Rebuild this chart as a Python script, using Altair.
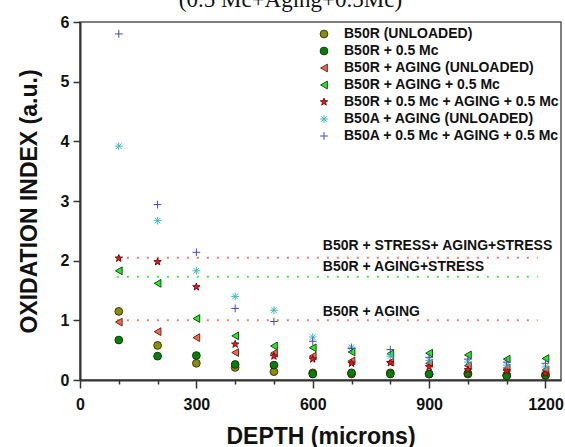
import altair as alt
import pandas as pd

# ---------------- data ----------------
depth = [100, 200, 300, 400, 500, 600, 700, 800, 900, 1000, 1100, 1200]

series_names = [
    "B50R (UNLOADED)",
    "B50R + 0.5 Mc",
    "B50R + AGING (UNLOADED)",
    "B50R + AGING + 0.5 Mc",
    "B50R + 0.5 Mc + AGING + 0.5 Mc",
    "B50A + AGING (UNLOADED)",
    "B50A + 0.5 Mc + AGING + 0.5 Mc",
]

b50r_unloaded = [1.15, 0.58, 0.28, 0.21, 0.14, 0.12, 0.10, 0.12, 0.10, 0.10, 0.08, 0.08]
b50r_05mc = [0.67, 0.40, 0.41, 0.26, 0.25, 0.10, 0.12, 0.10, 0.10, 0.11, 0.07, 0.08]
b50r_aging = [0.97, 0.81, 0.71, 0.46, 0.45, 0.40, 0.32, 0.30, 0.28, 0.24, 0.20, 0.17]
b50r_aging_05mc = [1.83, 1.62, 1.03, 0.74, 0.57, 0.54, 0.47, 0.44, 0.45, 0.42, 0.35, 0.36]
b50r_05mc_aging_05mc = [2.04, 1.98, 1.56, 0.60, 0.40, 0.35, 0.28, 0.29, 0.22, 0.17, 0.15, 0.11]
b50a_aging = [3.92, 2.67, 1.83, 1.40, 1.17, 0.72, 0.55, 0.40, 0.33, 0.30, 0.25, 0.22]
b50a_05mc_aging_05mc = [5.80, 2.94, 2.14, 1.20, 0.98, 0.65, 0.53, 0.51, 0.38, 0.35, 0.30, 0.28]

all_values = [b50r_unloaded, b50r_05mc, b50r_aging, b50r_aging_05mc,
              b50r_05mc_aging_05mc, b50a_aging, b50a_05mc_aging_05mc]

# reference (dotted) levels
ref_labels = ["B50R + STRESS+ AGING+STRESS", "B50R + AGING+STRESS", "B50R + AGING"]
ref_levels = [2.05, 1.73, 1.0]
ref_colors = ["#ff7070", "#44ee44", "#ff7a6a"]
ref_start = [95, 95, 95]
ref_end = [1180, 1180, 1180]
label_x = [626, 626, 626]
label_y = [2.25, 1.90, 1.145]

# styles
fill_colors = ["#8c8c0a", "#0a7d0a", "#ee6a4c", "#22ee22", "#ee1515", "#ffffff00", "#ffffff00"]
stroke_colors = ["#3a3a10", "#0c3c0c", "#6a2a20", "#1a4a1a", "#701010", "#3cbcbc", "#4848bb"]
star = ("M0,-1L0.235,-0.324L0.951,-0.309L0.38,0.124L0.588,0.809L0,0.4L-0.588,0.809"
        "L-0.38,0.124L-0.951,-0.309L-0.235,-0.324Z")
asterisk = "M-1,0L1,0M0,-1L0,1M-0.72,-0.72L0.72,0.72M-0.72,0.72L0.72,-0.72"
plus = "M-1,0L1,0M0,-1L0,1"
shapes = ["circle", "circle", "triangle-left", "triangle-left", star, asterisk, plus]
sizes = [60, 60, 90, 90, 110, 100, 100]

rows = []
for name, vals in zip(series_names, all_values):
    for d, v in zip(depth, vals):
        rows.append({"series": name, "depth": d, "value": v})
df = pd.DataFrame(rows)

ref_df = pd.DataFrame({
    "label": ref_labels, "level": ref_levels, "color": ref_colors,
    "x0": ref_start, "x1": ref_end, "lx": label_x, "ly": label_y,
})

FONT = "Liberation Sans"

xscale = alt.Scale(domain=[0, 1240], nice=False, zero=False)
yscale = alt.Scale(domain=[0, 6], nice=False)

x_axis = alt.Axis(
    values=list(range(0, 1201, 100)),
    labelExpr="datum.value % 300 === 0 ? datum.label : ''",
    format="d",
    tickSize={"condition": {"test": "datum.value % 300 === 0", "value": 8}, "value": 4},
    labelFlush=False, labelOverlap=False, grid=False,
    title="DEPTH (microns)", titlePadding=13,
    labelPadding=8,
)
y_axis = alt.Axis(
    values=[i * 0.5 for i in range(13)],
    labelExpr="datum.value % 1 === 0 ? datum.label : ''",
    format="d",
    tickSize={"condition": {"test": "datum.value % 1 === 0", "value": 7}, "value": 4},
    labelOverlap=False, grid=False,
    title="OXIDATION INDEX (a.u.)", titlePadding=19,
    labelPadding=4,
)

rules = alt.Chart(ref_df).mark_rule(strokeDash=[2, 8], strokeWidth=2).encode(
    x=alt.X("x0:Q", scale=xscale, axis=x_axis),
    x2="x1:Q",
    y=alt.Y("level:Q", scale=yscale, axis=y_axis),
    color=alt.Color("color:N", scale=None),
)

ann = alt.Chart(ref_df).mark_text(
    align="left", baseline="middle", font=FONT, fontWeight="bold", fontSize=14, color="#111"
).encode(
    x=alt.X("lx:Q", scale=xscale),
    y=alt.Y("ly:Q", scale=yscale),
    text="label:N",
)

legend = alt.Legend(
    title=None, orient="none", legendX=237, legendY=5,
    labelFont=FONT, labelFontWeight="bold", labelFontSize=14, labelColor="#111",
    labelOffset=13, labelLimit=400, rowPadding=3, padding=0,
    symbolStrokeWidth=1,
)

points = alt.Chart(df).mark_point(filled=True, opacity=1, strokeWidth=1).encode(
    x=alt.X("depth:Q", scale=xscale),
    y=alt.Y("value:Q", scale=yscale),
    fill=alt.Fill("series:N", scale=alt.Scale(domain=series_names, range=fill_colors), legend=legend, title=None),
    stroke=alt.Stroke("series:N", scale=alt.Scale(domain=series_names, range=stroke_colors), legend=legend, title=None),
    shape=alt.Shape("series:N", scale=alt.Scale(domain=series_names, range=shapes), legend=legend, title=None),
    size=alt.Size("series:N", scale=alt.Scale(domain=series_names, range=sizes), legend=legend, title=None),
)

chart = alt.layer(rules, ann, points).properties(
    width=481, height=358,
    autosize=alt.AutoSizeParams(type="none"),
    padding={"left": 80, "top": 22, "right": 4, "bottom": 67},
    background="white",
    title=alt.TitleParams(
        "(0.5 Mc+Aging+0.5Mc)", font="Liberation Serif", fontSize=23, fontWeight="normal",
        color="#111", anchor="middle", dx=-30, offset=2,
    ),
).configure_view(
    stroke="#555", strokeWidth=1.5
).configure_axis(
    domainColor="#333", domainWidth=2, tickColor="#333", tickWidth=1.5,
    labelFont=FONT, labelFontWeight="bold", labelFontSize=16, labelColor="#111",
    titleFont=FONT, titleFontWeight="bold", titleFontSize=23, titleColor="#111",
)

chart.save("out.html", embed_options={"renderer": "svg", "actions": False})
